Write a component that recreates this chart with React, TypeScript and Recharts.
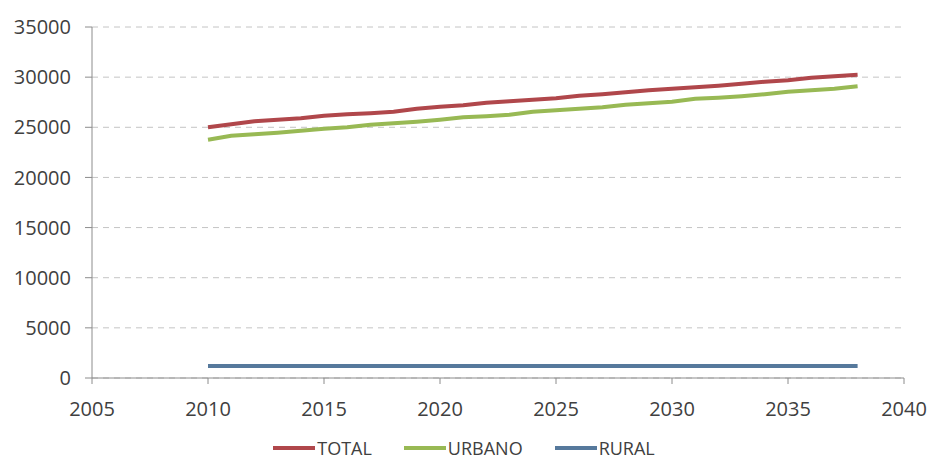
import { LineChart, Line, XAxis, YAxis, CartesianGrid, Legend } from 'recharts'

const years = [
  2010, 2011, 2012, 2013, 2014, 2015, 2016, 2017, 2018, 2019, 2020, 2021, 2022, 2023, 2024,
  2025, 2026, 2027, 2028, 2029, 2030, 2031, 2032, 2033, 2034, 2035, 2036, 2037, 2038,
]
const total = [
  25000, 25300, 25600, 25750, 25900, 26150, 26300, 26400, 26550, 26850, 27050, 27200, 27450, 27600, 27750,
  27900, 28150, 28300, 28500, 28700, 28850, 29000, 29150, 29350, 29550, 29700, 29950, 30100, 30250,
]
const urbano = [
  23750, 24150, 24300, 24450, 24650, 24850, 25000, 25250, 25400, 25550, 25750, 26000, 26100, 26250, 26550,
  26700, 26850, 27000, 27250, 27400, 27550, 27850, 27950, 28100, 28300, 28550, 28700, 28850, 29100,
]
const rural = [
  1200, 1200, 1200, 1200, 1200, 1200, 1200, 1200, 1200, 1200, 1200, 1200, 1200, 1200, 1200,
  1200, 1200, 1200, 1200, 1200, 1200, 1200, 1200, 1200, 1200, 1200, 1200, 1200, 1200,
]
const seriesNames = ['TOTAL', 'URBANO', 'RURAL']
const xTicks = [2005, 2010, 2015, 2020, 2025, 2030, 2035, 2040]
const yTicks = [0, 5000, 10000, 15000, 20000, 25000, 30000, 35000]

const data = years.map((year, i) => ({
  year,
  TOTAL: total[i],
  URBANO: urbano[i],
  RURAL: rural[i],
}))

const FONT = '"Open Sans", Calibri, sans-serif'
const AXIS = '#8c8c8c'
const TEXT = '#404040'

const renderLegend = (props: any) => {
  const payload = [...(props.payload || [])].sort(
    (a: any, b: any) => seriesNames.indexOf(a.value) - seriesNames.indexOf(b.value),
  )
  return (
    <div style={{ display: 'flex', justifyContent: 'center', gap: 32, fontFamily: FONT, fontSize: 18, color: TEXT }}>
      {payload.map((p: any) => (
        <div key={p.value} style={{ display: 'flex', alignItems: 'center' }}>
          <span style={{ display: 'inline-block', width: 42, height: 4, background: p.color, marginRight: 2 }} />
          <span>{p.value}</span>
        </div>
      ))}
    </div>
  )
}

export default function App() {
  return (
    <div style={{ position: 'absolute', left: 0, top: 0, width: 928, height: 468, background: '#fff' }}>
      <LineChart width={928} height={468} data={data} margin={{ top: 27, right: 24, bottom: 60, left: 0 }}>
        <CartesianGrid horizontal vertical={false} stroke="#c4c4c4" strokeDasharray="6 5" />
        <XAxis
          dataKey="year"
          type="number"
          domain={[2005, 2040]}
          ticks={xTicks}
          height={30}
          stroke={AXIS}
          tickSize={6}
          tickMargin={18}
          tick={{ fill: TEXT, fontSize: 20, fontFamily: FONT }}
        />
        <YAxis
          domain={[0, 35000]}
          ticks={yTicks}
          width={92}
          stroke={AXIS}
          tickSize={7}
          tickMargin={14}
          tick={{ fill: TEXT, fontSize: 20, fontFamily: FONT }}
        />
        <Legend
          verticalAlign="middle"
          align="center"
          content={renderLegend}
          wrapperStyle={{ top: 436, left: 0, width: 928 }}
        />
        <Line type="linear" dataKey="TOTAL" stroke="#b0474b" strokeWidth={4} dot={false} isAnimationActive={false} />
        <Line type="linear" dataKey="URBANO" stroke="#98b954" strokeWidth={4} dot={false} isAnimationActive={false} />
        <Line type="linear" dataKey="RURAL" stroke="#56799c" strokeWidth={4} dot={false} isAnimationActive={false} />
      </LineChart>
    </div>
  )
}
